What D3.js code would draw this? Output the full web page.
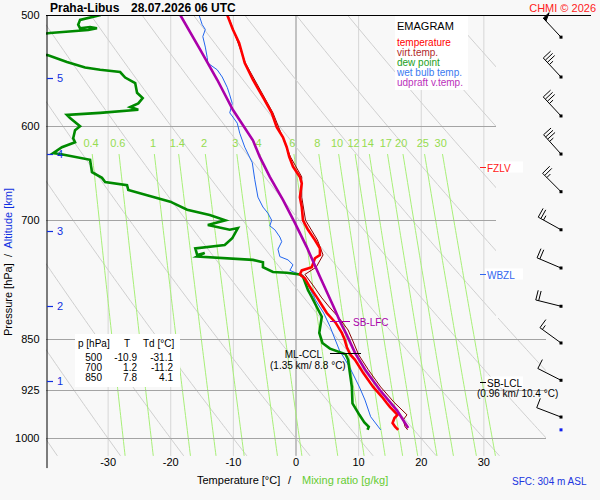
<!DOCTYPE html>
<html>
<head>
<meta charset="utf-8">
<script src="https://cdn.jsdelivr.net/npm/d3@7"></script>
<style>
    body { margin: 0; background: #f8f8f8; }
    svg { display: block; font-family: "Liberation Sans", Arial, sans-serif; }
</style>
</head>
<body>
<div id="grafico"></div>
<script>
// sounding values (pressure hPa / temperature °C)
var tempP = [500, 512, 523.5, 541, 556, 572, 587, 601, 611, 621, 631, 641, 652, 659, 674, 685, 700, 711, 723, 733, 741, 745, 756, 760, 765, 770, 781, 794, 807, 815, 828, 842, 850, 862, 873, 880, 899, 920, 935, 945, 951, 963, 968, 976, 982, 987];
var tempT = [-10.9, -10.0, -9.0, -8.1, -6.8, -5.2, -3.8, -3.0, -2.0, -1.4, -1.0, -0.4, 0.7, 1.0, 0.7, 1.0, 1.2, 2.0, 3.1, 3.9, 3.9, 3.1, 2.6, 1.0, 0.7, 1.5, 2.3, 3.4, 4.4, 5.0, 6.4, 7.4, 7.8, 8.2, 8.8, 9.5, 10.8, 12.4, 13.8, 14.6, 15.1, 16.3, 15.8, 15.5, 15.9, 16.4];

var virtP = [500, 541, 587, 631, 652, 674, 700, 723, 741, 756, 765, 781, 794, 807, 822, 838, 850, 873, 894, 920, 943, 963, 971, 982, 987];
var virtT = [-10.8, -8.0, -3.6, -0.8, 1.0, 1.0, 1.6, 3.5, 4.4, 3.3, 1.5, 3.0, 4.1, 5.4, 7.0, 8.4, 9.0, 10.1, 11.6, 13.6, 15.7, 17.8, 17.2, 17.5, 17.9];

var dewP = [500, 504, 508, 511, 510, 511, 512.5, 515, 519, 530, 534, 540, 545, 547, 549, 554, 559, 568, 573, 578, 581.5, 584, 587, 589, 592, 600, 604, 612, 616, 621, 627, 628, 634, 647, 653, 657.5, 661, 666, 672, 679, 688, 694, 700, 705.5, 711, 709, 721, 729, 733, 741, 738.5, 743, 747, 750, 756, 762, 763, 765, 768, 785, 794, 807, 820, 842, 856, 864, 872, 880, 900, 920, 945, 963, 975, 982, 987];
var dewT = [-31.1, -34.4, -34.7, -34.4, -32.8, -31.7, -33.1, -39.2, -46, -46,
    -39.6, -36.5, -33.6, -31.2, -28.0, -27.2, -25.6, -25.3, -24.4, -25.1,
    -26.4, -25.1, -31.2, -36.5, -36.0, -34.4, -35.2, -35.5, -35.2, -37.3,
    -38.7, -37.6, -32.8, -32.5, -30.9, -30.4, -26.9, -26.7, -23.7, -20.0,
    -17.3, -13.7, -11.2, -14.0, -10.5, -9.2, -10.1, -11.3, -16.0, -15.7,
    -14.5, -15.7, -6.8, -5.2, -5.2, -3.6, -1.4, 0.7, 1.2, 2.0,
    2.6, 3.4, 4.2, 3.8, 4.3, 5.5, 8.0, 8.4, 8.7, 9.0,
    9.1, 10.2, 11.0, 11.7, 11.5];

var wetP = [500, 508, 512, 518, 527, 536, 541, 547, 553.5, 563, 570, 578, 587, 591, 597, 607, 621, 637, 655, 674, 685, 692, 700, 706.5, 711, 719.5, 725, 734, 743, 747, 753, 760, 763.5, 766, 778, 798, 815, 833, 866, 890, 920, 940, 966, 987];
var wetT = [-15.4, -14.9, -14.4, -14.8, -14.4, -14.1, -14.0, -12.5, -11.7, -10.9, -10.5, -10.1, -10.5, -10.0, -9.3, -8.9, -8.1, -6.9, -6.5, -6.0, -5.2, -4.4, -3.8, -4.1, -3.3, -2.5, -2.2, -2.8, -2.5, -1.2, -0.4, -0.9, 0.2, 1.2, 2.0, 3.2, 4.5, 5.5, 7.0, 8.6, 10.2, 11.1, 12.0, 13.6];

var parcelP = [500, 529.5, 556, 584, 614, 631, 652, 677, 703, 731.5, 768, 807, 828, 845, 870, 894, 925, 956, 984];
var parcelT = [-18.4, -15.2, -12.5, -10.0, -6.8, -5.7, -4.1, -2.0, -0.1, 1.8, 3.9, 6.1, 7.2, 8.2, 9.5, 11.1, 13.5, 16.2, 18.0];

// wind barbs (pressure, direction deg, speed kt)
var barbP = [518.5, 553.5, 590, 628, 668, 711, 757, 806, 856, 910, 966.5];
var barbDir = [317, 317, 317, 318, 315, 299, 293, 284, 306, 297, 291];
var barbSpd = [50, 35, 35, 35, 25, 25, 20, 20, 15, 10, 10];
var sfcP = 987;

// axes / grid
var isobars = [600, 700, 850, 925, 1000];
var pressureTicks = [500, 600, 700, 850, 925, 1000];
var isotherms = [-30, -20, -10, 0, 10, 20, 30];
var mixRatios = [0.4, 0.6, 1, 1.4, 2, 3, 4, 6, 8, 10, 12, 14, 17, 20, 25, 30];
var altKm = [1, 2, 3, 4, 5];
var altP = [911, 806, 712.5, 628, 554];

// table
var tableP = [500, 700, 850];
var tableT = [-10.9, 1.2, 7.8];
var tableTd = [-31.1, -11.2, 4.1];

var legendNames = ["temperature", "virt.temp.", "dew point", "wet bulb temp.", "udpraft v.temp."];
var legendColors = ["#ff0000", "#b02a2a", "#22a022", "#3a7af0", "#bb30bb"];

// levels
var fzlvP = 642, wbzlP = 765, lclP = 912, lfcP = 826, cclP = 870;

var width = 600, height = 500;

var x = d3.scaleLinear().domain([-40, 40]).range([45, 546]);
var y = d3.scaleLog().domain([500, 1050]).range([15, 15 + 610 * Math.log(1050 / 500)]);

var line = d3.line().x(function(d) { return x(d[1]); }).y(function(d) { return y(d[0]); });

// plain hyphen minus like the original
function fmt1(v) { return v.toFixed(1); }

var svg = d3.select("#grafico").append("svg").attr("width", width).attr("height", height);
svg.append("rect").attr("width", width).attr("height", height).attr("fill", "#f8f8f8");

var clip = svg.append("defs").append("clipPath").attr("id", "plotClip");
clip.append("rect").attr("x", 46).attr("y", 15).attr("width", 450).attr("height", 303);
clip.append("rect").attr("x", 46).attr("y", 318).attr("width", 500).attr("height", 152);

var plot = svg.append("g").attr("clip-path", "url(#plotClip)");

/* GRID */
plot.selectAll(".isotherm").data(isotherms).enter().append("line")
    .attr("x1", function(d) { return x(d) + 0.5; }).attr("x2", function(d) { return x(d) + 0.5; })
    .attr("y1", y(500)).attr("y2", y(1030))
    .attr("stroke", function(d) { return d == 0 ? "#8c8c8c" : "#d6d6d6"; })
    .attr("stroke-width", 1);

var pLevels = d3.range(500, 1031, 5);

var thetas = d3.range(-60, 121, 10);
plot.selectAll(".adiabat").data(thetas).enter().append("path")
    .attr("d", function(th) {
        return line(pLevels.map(function(p) {
            return [p, (th + 273.15) * Math.pow(p / 1000, 0.286) - 273.15];
        }));
    })
    .attr("fill", "none").attr("stroke", "#cfcfcf").attr("stroke-width", 1);

function dewFromMix(w, p) {
    var e = w * p / (622 + w);
    var l = Math.log(e / 6.112);
    return 243.5 * l / (17.67 - l);
}

var mixLevels = d3.range(628, 1031, 6);
plot.selectAll(".mix").data(mixRatios).enter().append("path")
    .attr("d", function(w) {
        return line(mixLevels.map(function(p) { return [p, dewFromMix(w, p)]; }));
    })
    .attr("fill", "none").attr("stroke", "#a8ef78").attr("stroke-width", 1);

plot.selectAll(".mixlabel").data(mixRatios).enter().append("text")
    .attr("x", function(w) { return x(dewFromMix(w, 617)); })
    .attr("y", y(617) + 4)
    .attr("text-anchor", "middle")
    .attr("font-size", "11px")
    .attr("fill", "#96dc50")
    .text(function(w) { return w; });

plot.selectAll(".isobar").data(isobars).enter().append("line")
    .attr("x1", 46).attr("x2", 546)
    .attr("y1", function(d) { return Math.round(y(d)) + 0.5; })
    .attr("y2", function(d) { return Math.round(y(d)) + 0.5; })
    .attr("stroke", "#a4a4a4").attr("stroke-width", 1);

/* CURVES */
plot.append("path").datum(d3.zip(wetP, wetT)).attr("d", line)
    .attr("fill", "none").attr("stroke", "#2266ee").attr("stroke-width", 1);
plot.append("path").datum(d3.zip(dewP, dewT)).attr("d", line)
    .attr("fill", "none").attr("stroke", "#008a00").attr("stroke-width", 2.6);
plot.append("path").datum(d3.zip(virtP, virtT)).attr("d", line)
    .attr("fill", "none").attr("stroke", "#8b0000").attr("stroke-width", 1);
plot.append("path").datum(d3.zip(tempP, tempT)).attr("d", line)
    .attr("fill", "none").attr("stroke", "#ff0000").attr("stroke-width", 2.6);
plot.append("path").datum(d3.zip(parcelP, parcelT)).attr("d", line)
    .attr("fill", "none").attr("stroke", "#aa00aa").attr("stroke-width", 2.6);

/* AXES */
svg.append("line").attr("x1", 46).attr("x2", 591).attr("y1", 15.5).attr("y2", 15.5)
    .attr("stroke", "#000").attr("stroke-width", 1);

var yAxis = svg.append("g").attr("transform", "translate(46.5,0)")
    .call(d3.axisLeft(y).tickValues(pressureTicks).tickSize(0).tickPadding(7)
        .tickFormat(function(d) { return String(d); }));
yAxis.select(".domain").attr("stroke", "#000");
yAxis.selectAll("text").attr("font-size", "11px").attr("font-family", "Liberation Sans, Arial, sans-serif").attr("fill", "#000");

var xAxis = svg.append("g").attr("transform", "translate(0,456)")
    .call(d3.axisBottom(x).tickValues(isotherms).tickSize(0).tickPadding(2)
        .tickFormat(function(d) { return String(d); }));
xAxis.select(".domain").remove();
xAxis.selectAll("text").attr("font-size", "11px").attr("font-family", "Liberation Sans, Arial, sans-serif").attr("fill", "#000");

var alt = svg.append("g");
alt.selectAll("line").data(altP).enter().append("line")
    .attr("x1", 47).attr("x2", 53)
    .attr("y1", function(d) { return Math.round(y(d)) + 0.5; })
    .attr("y2", function(d) { return Math.round(y(d)) + 0.5; })
    .attr("stroke", "#1030e0").attr("stroke-width", 1.2);
alt.selectAll("text").data(altKm).enter().append("text")
    .attr("x", 57)
    .attr("y", function(d, i) { return y(altP[i]) + 4; })
    .attr("font-size", "11px").attr("fill", "#1030e0")
    .text(function(d) { return d; });

svg.append("text").attr("x", 50).attr("y", 12).attr("font-size", "12px").attr("font-weight", "bold").text("Praha-Libus");
svg.append("text").attr("x", 131).attr("y", 12).attr("font-size", "12px").attr("font-weight", "bold").text("28.07.2026 06 UTC");
svg.append("text").attr("x", 596).attr("y", 12).attr("text-anchor", "end").attr("font-size", "11px").attr("fill", "#ff2020").text("CHMI © 2026");

var yTitle = svg.append("text").attr("transform", "translate(12,262) rotate(-90)")
    .attr("text-anchor", "middle").attr("font-size", "11px");
yTitle.append("tspan").attr("fill", "#000").text("Pressure [hPa]");
yTitle.append("tspan").attr("fill", "#000").attr("xml:space", "preserve").text("  /  ");
yTitle.append("tspan").attr("fill", "#1030e0").text("Altitude [km]");

svg.append("text").attr("x", 197).attr("y", 484).attr("font-size", "11px").attr("fill", "#000").text("Temperature [°C]");
svg.append("text").attr("x", 288).attr("y", 484).attr("font-size", "11px").attr("fill", "#000").text("/");
svg.append("text").attr("x", 302).attr("y", 484).attr("font-size", "11px").attr("fill", "#66cc33").text("Mixing ratio [g/kg]");
svg.append("text").attr("x", 512).attr("y", 485).attr("font-size", "10px").attr("fill", "#2036e0").text("SFC: 304 m ASL");

/* LEGEND */
svg.append("rect").attr("x", 395).attr("y", 16).attr("width", 73).attr("height", 74).attr("fill", "#fff");
svg.append("text").attr("x", 397).attr("y", 30).attr("font-size", "11px").attr("fill", "#000").text("EMAGRAM");
svg.selectAll(".legend").data(legendNames).enter().append("text")
    .attr("x", 397).attr("y", function(d, i) { return 45.5 + i * 10; })
    .attr("font-size", "10px")
    .attr("fill", function(d, i) { return legendColors[i]; })
    .text(function(d) { return d; });

/* TABLE */
var tab = svg.append("g").attr("font-size", "10px").attr("fill", "#000");
tab.append("rect").attr("x", 75).attr("y", 334).attr("width", 105).attr("height", 53).attr("fill", "#fff");
tab.append("text").attr("x", 78).attr("y", 347).text("p [hPa]");
tab.append("text").attr("x", 127).attr("y", 347).attr("text-anchor", "middle").text("T");
tab.append("text").attr("x", 143).attr("y", 347).text("Td [°C]");
tableP.forEach(function(p, i) {
    var yy = 361 + i * 10;
    tab.append("text").attr("x", 102).attr("y", yy).attr("text-anchor", "end").text(p);
    tab.append("text").attr("x", 137).attr("y", yy).attr("text-anchor", "end").text(fmt1(tableT[i]));
    tab.append("text").attr("x", 173).attr("y", yy).attr("text-anchor", "end").text(fmt1(tableTd[i]));
});

/* LEVELS */
function levelTag(p, color, label) {
    var yy = Math.round(y(p)) + 0.5;
    svg.append("rect").attr("x", 485).attr("y", yy - 6).attr("width", 38).attr("height", 11).attr("fill", "#fff");
    svg.append("line").attr("x1", 480).attr("x2", 486).attr("y1", yy).attr("y2", yy).attr("stroke", color);
    svg.append("text").attr("x", 487).attr("y", yy + 4).attr("font-size", "10px").attr("fill", color).text(label);
}
levelTag(fzlvP, "#ff2020", "FZLV");
levelTag(wbzlP, "#3366ee", "WBZL");
levelTag(lclP, "#000", "SB-LCL");
svg.append("text").attr("x", 477).attr("y", y(lclP) + 15).attr("font-size", "10px").attr("fill", "#000").text("(0.96 km/ 10.4 °C)");

var lfcY = Math.round(y(lfcP)) + 0.5;
svg.append("line").attr("x1", 330).attr("x2", 350).attr("y1", lfcY).attr("y2", lfcY).attr("stroke", "#aa00aa");
svg.append("text").attr("x", 353).attr("y", lfcY + 4).attr("font-size", "10px").attr("fill", "#aa00aa").text("SB-LFC");

var cclY = Math.round(y(cclP)) + 0.5;
svg.append("line").attr("x1", 330).attr("x2", 361).attr("y1", cclY).attr("y2", cclY).attr("stroke", "#000");
svg.append("text").attr("x", 322).attr("y", cclY + 4).attr("text-anchor", "end").attr("font-size", "10px").attr("fill", "#000").text("ML-CCL");
svg.append("text").attr("x", 270).attr("y", cclY + 15).attr("font-size", "10px").attr("fill", "#000").text("(1.35 km/ 8.8 °C)");

/* WIND BARBS */
var barbs = svg.append("g").attr("stroke", "#000").attr("stroke-width", 1).attr("fill", "none");
var bx = 561;

function drawBarb(cy, dir, spd) {
    var a = dir * Math.PI / 180;
    var ux = Math.sin(a), uy = -Math.cos(a);
    var vx = Math.cos(a), vy = Math.sin(a);
    var len = 26;
    var tx = bx + ux * len, ty = cy + uy * len;
    barbs.append("line").attr("x1", bx).attr("y1", cy).attr("x2", tx).attr("y2", ty);
    barbs.append("rect").attr("x", bx - 1.5).attr("y", cy - 1.5).attr("width", 3).attr("height", 3)
        .attr("fill", "#000").attr("stroke", "none");
    var rest = spd, pos = 0;
    while (rest >= 50) {
        var px = tx - ux * pos, py = ty - uy * pos;
        barbs.append("path")
            .attr("d", "M" + px + "," + py + "L" + (px + vx * 8) + "," + (py + vy * 8) +
                "L" + (px - ux * 4) + "," + (py - uy * 4) + "Z")
            .attr("fill", "#000");
        pos += 5;
        rest -= 50;
    }
    while (rest >= 10) {
        var fx = tx - ux * pos, fy = ty - uy * pos;
        barbs.append("line").attr("x1", fx).attr("y1", fy).attr("x2", fx + vx * 10).attr("y2", fy + vy * 10);
        pos += 3;
        rest -= 10;
    }
    if (rest >= 5) {
        var hx = tx - ux * pos, hy = ty - uy * pos;
        barbs.append("line").attr("x1", hx).attr("y1", hy).attr("x2", hx + vx * 5).attr("y2", hy + vy * 5);
    }
}

barbP.forEach(function(p, i) {
    drawBarb(y(p), barbDir[i], barbSpd[i]);
});

svg.append("rect").attr("x", bx - 1.5).attr("y", y(sfcP) - 1.5).attr("width", 3).attr("height", 3).attr("fill", "#1020ee");
</script>
</body>
</html>
